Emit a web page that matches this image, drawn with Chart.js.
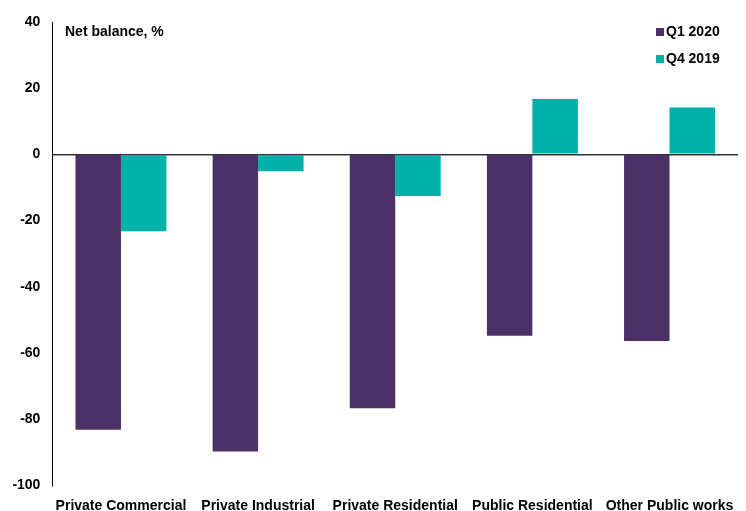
<!DOCTYPE html>
<html>
<head>
<meta charset="utf-8">
<script src="https://cdn.jsdelivr.net/npm/chart.js@4"></script>
<style>
  html, body { margin: 0; padding: 0; background: #fff; }
  #wrap { width: 746px; height: 511px; }
</style>
</head>
<body>
<div id="wrap"><canvas id="c" width="746" height="511"></canvas></div>
<script>
const categories = ['Private Commercial', 'Private Industrial', 'Private Residential', 'Public Residential', 'Other Public works'];
const q1_2020 = [-83.2, -89.8, -76.7, -54.8, -56.4];
const q4_2019 = [-23.2, -5.1, -12.6, 16.7, 14.2];
const yTicks = [40, 20, 0, -20, -40, -60, -80, -100];

const FONT = 'Liberation Sans, Arial, sans-serif';
const PURPLE = '#4C3168';
const TEAL = '#00B1A9';

// Unit label and legend drawn inside the plot area
const overlay = {
  id: 'overlay',
  afterDraw(chart) {
    const ctx = chart.ctx;
    ctx.save();
    ctx.font = 'bold 14px ' + FONT;
    ctx.fillStyle = '#000';
    ctx.textBaseline = 'middle';
    ctx.textAlign = 'left';
    ctx.fillText('Net balance, %', 65, 32);
    const items = chart.data.datasets;
    items.forEach((ds, i) => {
      const y = 32 + i * 27;
      ctx.fillStyle = ds.backgroundColor;
      ctx.fillRect(656, y - 4, 8, 8);
      ctx.fillStyle = '#000';
      ctx.fillText(ds.label, 666, y);
    });
    ctx.restore();
  }
};

new Chart(document.getElementById('c'), {
  type: 'bar',
  data: {
    labels: categories,
    datasets: [
      { label: 'Q1 2020', data: q1_2020, backgroundColor: PURPLE },
      { label: 'Q4 2019', data: q4_2019, backgroundColor: TEAL }
    ]
  },
  options: {
    responsive: false,
    animation: false,
    devicePixelRatio: 1,
    layout: { padding: { top: 22, right: 7, bottom: 0, left: 0 } },
    datasets: { bar: { categoryPercentage: 0.663, barPercentage: 1.0 } },
    plugins: { legend: { display: false }, tooltip: { enabled: false } },
    scales: {
      x: {
        grid: { display: false, drawTicks: false },
        border: { display: false },
        ticks: { color: '#000', font: { family: FONT, size: 14, weight: 'bold' }, padding: 12, maxRotation: 0, autoSkip: false },
        afterFit(scale) { scale.height = 25.7; }
      },
      y: {
        min: -100, max: 40,
        afterBuildTicks(scale) { scale.ticks = yTicks.map(v => ({ value: v })); },
        grid: {
          drawTicks: false,
          color: c => (c.tick && c.tick.value === 0 ? '#333' : 'rgba(0,0,0,0)'),
          lineWidth: 1.5
        },
        border: { display: true, color: '#000', width: 1 },
        ticks: { color: '#000', font: { family: FONT, size: 14, weight: 'bold' }, padding: 12 },
        afterFit(scale) { scale.width = 52.4; }
      }
    }
  },
  plugins: [overlay]
});
</script>
</body>
</html>
